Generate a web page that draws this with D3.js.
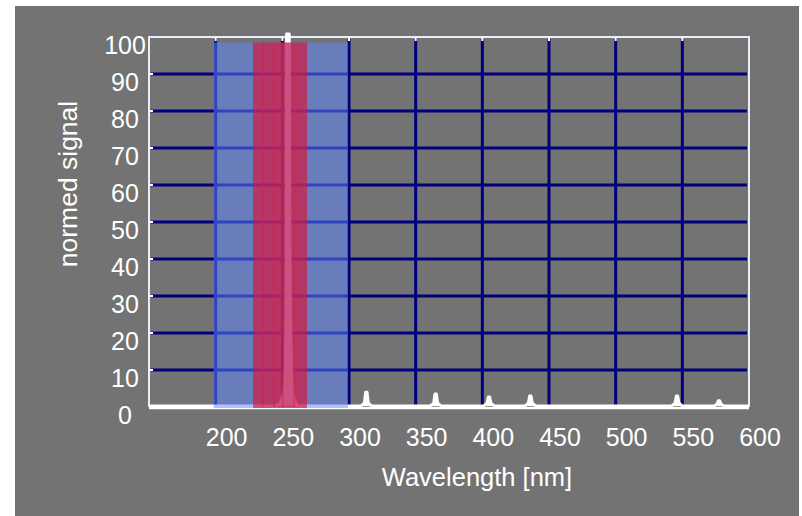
<!DOCTYPE html>
<html>
<head>
<meta charset="utf-8">
<script src="https://cdn.jsdelivr.net/npm/d3@7"></script>
<style>
  body { margin: 0; background: #fff; }
  text { font-family: "Liberation Sans", Arial, sans-serif; fill: #fff; }
</style>
</head>
<body>
<script>
// data
const xTicks = [200, 250, 300, 350, 400, 450, 500, 550, 600]
const yTicks = [0, 10, 20, 30, 40, 50, 60, 70, 80, 90, 100]

// spectrum (wavelength nm, normed signal)
const wl = [150, 245, 248.5, 250.5, 251.5, 252.3, 252.9, 253.2, 255.2, 255.6, 256.3, 257.2, 258.5, 261,
  309, 311.5, 312.5, 313.5, 314.5, 317,
  361, 363.5, 364.5, 365.5, 366.5, 369,
  401, 403.5, 404.5, 405.5, 406.5, 409,
  432, 434.5, 435.5, 436.5, 437.5, 440,
  542, 544.5, 545.5, 546.5, 547.5, 550,
  574, 576, 577, 578, 579, 581, 600]
const signal = [0.3, 0.3, 1, 3, 6, 12, 30, 100.8, 100.8, 45, 20, 8, 2.5, 0.3,
  0.3, 1, 4, 4, 1, 0.3,
  0.3, 1, 3.5, 3.5, 1, 0.3,
  0.3, 1, 2.7, 2.7, 1, 0.3,
  0.3, 1, 3, 3, 1, 0.3,
  0.3, 1, 3, 3, 1, 0.3,
  0.3, 0.8, 1.7, 1.7, 0.8, 0.3, 0.3]

// shaded bands [from, to] in nm
const blueBand = [198.5, 299.2]
const redBand = [228, 268.5]
const redLines = [235.5, 243.8, 250.5, 258.8]
const bandTop = 98.5

const width = 802, height = 516

const svg = d3.select("body").append("svg")
  .attr("width", width)
  .attr("height", height)

svg.append("rect")
  .attr("x", 15).attr("y", 6)
  .attr("width", 784).attr("height", 510)
  .attr("fill", "#737373")

const x = d3.scaleLinear().domain([150, 600]).range([149, 749])
const y = d3.scaleLinear().domain([0, 100]).range([407, 37])

// grid
const grid = svg.append("g")
grid.selectAll(".gx")
  .data(xTicks.filter(d => d < 600))
  .enter().append("line")
    .attr("x1", d => x(d)).attr("x2", d => x(d))
    .attr("y1", y(100) + 2).attr("y2", y(0) - 1)
    .attr("stroke", "#00007f")
    .attr("stroke-width", 3)
grid.selectAll(".gy")
  .data(yTicks.filter(d => d > 0 && d < 100))
  .enter().append("line")
    .attr("x1", x(150) + 2).attr("x2", x(600) - 2)
    .attr("y1", d => y(d)).attr("y2", d => y(d))
    .attr("stroke", "#00007f")
    .attr("stroke-width", 3)

// frame
svg.append("path")
  .attr("d", `M${x(150)},${y(0)}V${y(100)}H${x(600)}V${y(0)}`)
  .attr("fill", "none")
  .attr("stroke", "#ececf8")
  .attr("stroke-width", 2)
// small inner ticks
svg.selectAll(".tx")
  .data(xTicks.filter(d => d < 600))
  .enter().append("line")
    .attr("x1", d => x(d)).attr("x2", d => x(d))
    .attr("y1", y(100)).attr("y2", y(100) + 4)
    .attr("stroke", "#fff").attr("stroke-width", 2)
svg.selectAll(".ty")
  .data(yTicks.filter(d => d > 0 && d < 100))
  .enter().append("line")
    .attr("x1", x(150)).attr("x2", x(150) + 4)
    .attr("y1", d => y(d)).attr("y2", d => y(d))
    .attr("stroke", "#fff").attr("stroke-width", 2)

// bottom axis line
svg.append("line")
  .attr("x1", x(150)).attr("x2", x(600))
  .attr("y1", y(0) + 1).attr("y2", y(0) + 1)
  .attr("stroke", "#fff").attr("stroke-width", 2.5)

// spectrum
const line = d3.line()
  .x((d, i) => x(wl[i]))
  .y(d => y(d))
svg.append("path")
  .datum(signal)
  .attr("d", line)
  .attr("fill", "#fff")
  .attr("stroke", "#fff")
  .attr("stroke-width", 3)
  .attr("stroke-linejoin", "round")

// bands
svg.append("rect")
  .attr("x", x(blueBand[0]))
  .attr("y", y(bandTop))
  .attr("width", x(blueBand[1]) - x(blueBand[0]))
  .attr("height", y(0) + 1 - y(bandTop))
  .attr("fill", "rgb(93,135,255)")
  .attr("fill-opacity", 0.5)
svg.append("rect")
  .attr("x", x(redBand[0]))
  .attr("y", y(bandTop))
  .attr("width", x(redBand[1]) - x(redBand[0]))
  .attr("height", y(0) + 1 - y(bandTop))
  .attr("fill", "rgb(220,20,60)")
  .attr("fill-opacity", 0.65)
svg.selectAll(".rl")
  .data(redLines)
  .enter().append("line")
    .attr("x1", d => x(d)).attr("x2", d => x(d))
    .attr("y1", y(bandTop)).attr("y2", y(0))
    .attr("stroke", "#f0143c")
    .attr("stroke-opacity", 0.85)
    .attr("stroke-width", 1)

// tick labels (they sit a bit off the grid in the original)
svg.selectAll(".lx")
  .data(xTicks)
  .enter().append("text")
    .attr("x", d => x(d) + 11)
    .attr("y", 446)
    .attr("text-anchor", "middle")
    .style("font-size", "25px")
    .text(d => d)
svg.selectAll(".ly")
  .data(yTicks)
  .enter().append("text")
    .attr("x", 125)
    .attr("y", d => y(d) + 17)
    .attr("text-anchor", "middle")
    .style("font-size", "25px")
    .text(d => d)

// axis titles
svg.append("text")
  .attr("x", 477).attr("y", 486)
  .attr("text-anchor", "middle")
  .style("font-size", "25.5px")
  .text("Wavelength [nm]")
svg.append("text")
  .attr("transform", "translate(77,184) rotate(-90)")
  .attr("text-anchor", "middle")
  .style("font-size", "26.5px")
  .text("normed signal")
</script>
</body>
</html>
